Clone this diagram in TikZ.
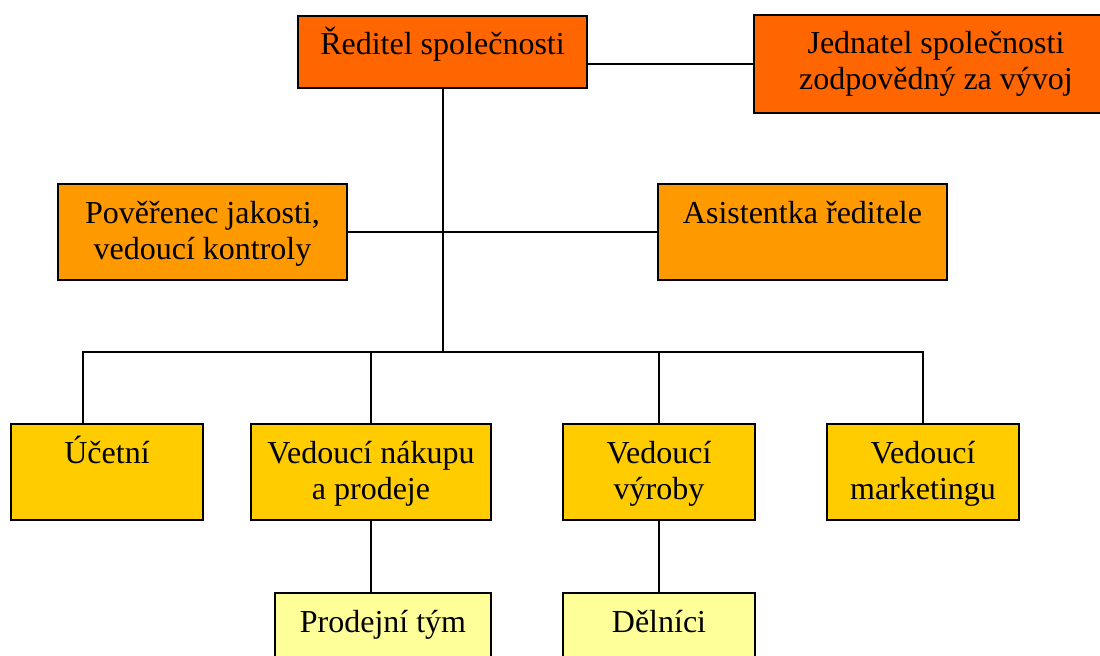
\documentclass[tikz,border=0pt]{standalone}
\usepackage{fontspec}
\setmainfont{Liberation Serif}

\definecolor{levelone}{HTML}{FF6600}
\definecolor{leveltwo}{HTML}{FF9900}
\definecolor{levelthree}{HTML}{FFCC00}
\definecolor{levelfour}{HTML}{FFFF99}

% one pixel of the drawing grid
\newlength\px
\setlength\px{0.75pt}

% a text line whose height is always that of the strut
\newcommand\boxline[1]{\strut\smash{#1}}
% box body: width, height (in px), top-aligned centred lines
\newcommand\boxcontent[3]{%
  \parbox[c][#2\px][t]{#1\px}{\centering\fontsize{24pt}{27pt}\selectfont
    \vspace*{\dimexpr39\px-\ht\strutbox\relax}#3}}

\begin{document}
\begin{tikzpicture}[x=0.75pt,y=-0.75pt,
  box/.style={draw=black, line width=1.4pt, inner sep=0pt, outer sep=0pt, anchor=north west},
  link/.style={draw=black, line width=1.4pt}]
\useasboundingbox (0,0) rectangle (1100,656);

% management
\node[box, fill=levelone] (dir) at (298,16)
  {\boxcontent{289}{72}{\boxline{Ředitel společnosti}}};
\node[box, fill=levelone] (jed) at (754,15)
  {\boxcontent{364}{98}{\boxline{Jednatel společnosti}\\\boxline{zodpovědný za vývoj}}};

% staff
\node[box, fill=leveltwo] (pov) at (58,184)
  {\boxcontent{289}{96}{\boxline{Pověřenec jakosti,}\\\boxline{vedoucí kontroly}}};
\node[box, fill=leveltwo] (asi) at (658,184)
  {\boxcontent{289}{96}{\boxline{Asistentka ředitele}}};

% department heads
\node[box, fill=levelthree] (uce) at (11,424)
  {\boxcontent{192}{96}{\boxline{Účetní}}};
\node[box, fill=levelthree] (nak) at (251,424)
  {\boxcontent{240}{96}{\boxline{Vedoucí nákupu}\\\boxline{a prodeje}}};
\node[box, fill=levelthree] (vyr) at (563,424)
  {\boxcontent{192}{96}{\boxline{Vedoucí}\\\boxline{výroby}}};
\node[box, fill=levelthree] (mkt) at (827,424)
  {\boxcontent{192}{96}{\boxline{Vedoucí}\\\boxline{marketingu}}};

% teams
\node[box, fill=levelfour] (pro) at (275,593)
  {\boxcontent{216}{96}{\boxline{Prodejní tým}}};
\node[box, fill=levelfour] (del) at (563,593)
  {\boxcontent{192}{96}{\boxline{Dělníci}}};

% connectors
\coordinate (bus) at (443,352);
\coordinate (ucedrop) at (83,424);
\draw[link] (jed.west) -- (jed.west -| dir.east);
\draw[link] (bus |- dir.south) -- (bus);
\draw[link] (pov.east) -- (asi.west);
\draw[link] (ucedrop) |- (bus) -| (mkt.north);
\draw[link] (nak.north) -- (nak.north |- bus);
\draw[link] (vyr.north) -- (vyr.north |- bus);
\draw[link] (nak.south) -- (nak.south |- pro.north);
\draw[link] (vyr.south) -- (del.north);
\end{tikzpicture}
\end{document}
